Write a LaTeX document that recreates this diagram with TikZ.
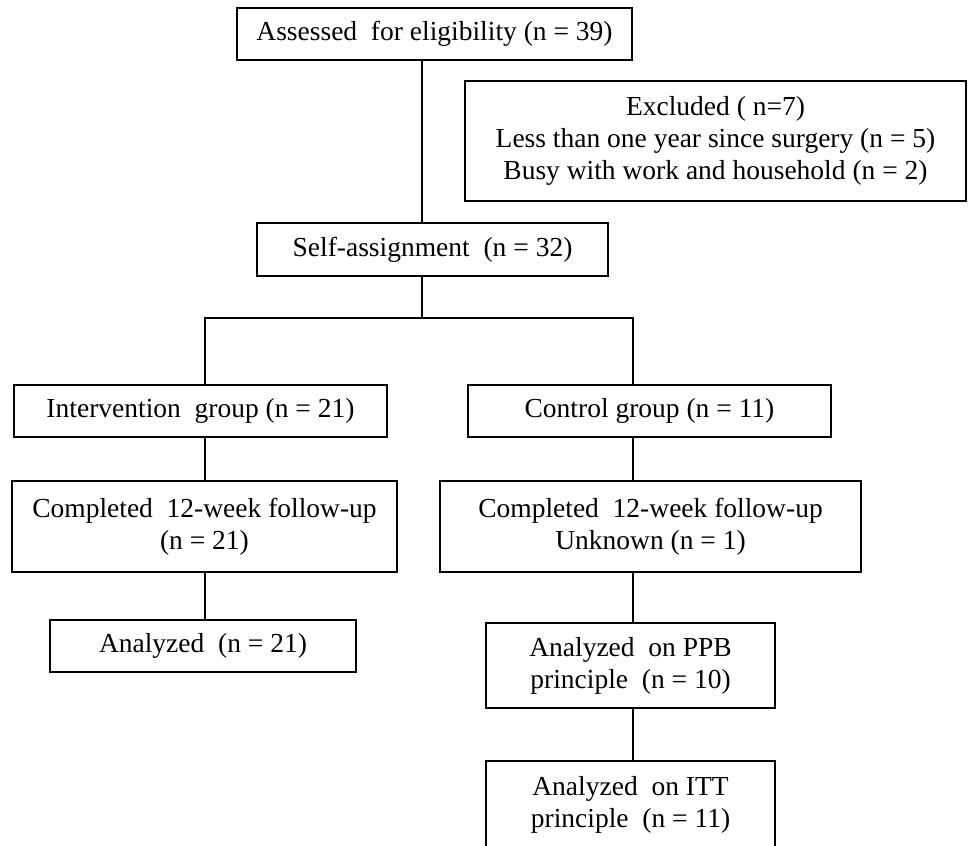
\documentclass[tikz,border=0pt]{standalone}
\usepackage{fontspec}
\setmainfont{Liberation Serif}
\usetikzlibrary{calc}

\begin{document}
\begin{tikzpicture}[x=1pt,y=-1pt,
  box/.style={draw, line width=1.1pt, inner sep=0pt, align=center,
    font=\fontsize{27.5}{32}\selectfont},
  link/.style={line width=1.1pt}]

\useasboundingbox (0,0) rectangle (968,845);

% Column positions of the connecting lines
\coordinate (trunk) at (422,0);
\coordinate (lcol) at (205,0);
\coordinate (rcol) at (633,0);

% Top of the chart
\node[box, minimum width=395, minimum height=52] (assess) at (434.5,34)
  {Assessed\ \ for eligibility (n = 39)};
\node[box, minimum width=501, minimum height=120] (excl) at (715.5,141)
  {Excluded ( n=7)\\Less than one year since surgery (n = 5)\\Busy with work and household (n = 2)};
\node[box, minimum width=351, minimum height=53] (self) at (432.5,249.5)
  {Self-assignment\ \ (n = 32)};

% Left branch
\node[box, minimum width=373, minimum height=52] (interv) at (200.5,411)
  {Intervention\ \ group (n = 21)};
\node[box, minimum width=385, minimum height=91] (compl) at (204.5,526.5)
  {Completed\ \ 12-week follow-up\\(n = 21)};
\node[box, minimum width=306, minimum height=52] (anal) at (203,646)
  {Analyzed\ \ (n = 21)};

% Right branch
\node[box, minimum width=363, minimum height=52] (ctrl) at (649.5,411)
  {Control group (n = 11)};
\node[box, minimum width=421, minimum height=91] (compr) at (650.5,526.5)
  {Completed\ \ 12-week follow-up\\Unknown (n = 1)};
\node[box, minimum width=289, minimum height=85] (ppb) at (630.5,665.5)
  {Analyzed\ \ on PPB\\principle\ \ (n = 10)};
\node[box, minimum width=289, minimum height=88] (itt) at (630.5,805)
  {Analyzed\ \ on ITT\\principle\ \ (n = 11)};

% Connecting lines
\coordinate (split) at (422,318);
\draw[link] (assess.south -| trunk) -- (self.north -| trunk);
\draw[link] (self.south -| trunk) -- (split);
\draw[link] (interv.north -| lcol) -- (split -| lcol) -- (split -| rcol) -- (ctrl.north -| rcol);
\draw[link] (interv.south -| lcol) -- (compl.north -| lcol);
\draw[link] (compl.south -| lcol) -- (anal.north -| lcol);
\draw[link] (ctrl.south -| rcol) -- (compr.north -| rcol);
\draw[link] (compr.south -| rcol) -- (ppb.north -| rcol);
\draw[link] (ppb.south -| rcol) -- (itt.north -| rcol);

\end{tikzpicture}
\end{document}
